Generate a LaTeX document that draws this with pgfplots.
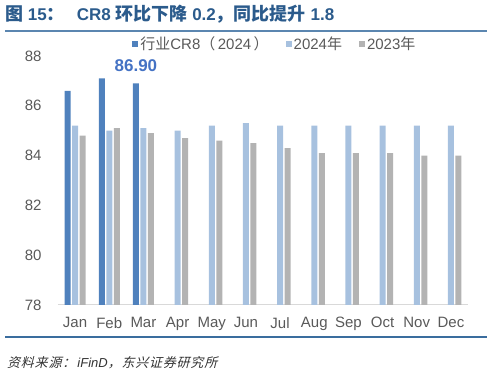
\documentclass[border=0pt]{standalone}
\usepackage{pgfplots}
\pgfplotsset{compat=1.18}
\usepackage{fontspec}
\setmainfont{Liberation Sans}
\newfontfamily\cjk{Noto Sans CJK SC}
\newfontfamily\cjkit[FakeSlant=0.25,LetterSpace=6]{Noto Sans CJK SC}
\definecolor{cra}{HTML}{4F81BD}
\definecolor{crb}{HTML}{A7C1DF}
\definecolor{crc}{HTML}{B3B3B3}
\definecolor{ttl}{HTML}{2B5B8C}
\definecolor{tickc}{HTML}{595959}
\definecolor{lblc}{HTML}{4472C4}
\definecolor{rule1}{HTML}{5B86B0}
\definecolor{rule2}{HTML}{3A6D9E}
\newcommand{\tc}[1]{{\cjk\fontsize{18bp}{20bp}\selectfont #1}}
\begin{document}
\begin{tikzpicture}
\path[use as bounding box] (0bp,0bp) rectangle (492bp,380bp);
\node[anchor=west, text=ttl, font=\fontsize{17bp}{20bp}\selectfont\bfseries, inner sep=0] at (5bp,366bp) {\tc{图} 15\tc{：}\hspace{12bp}CR8 \tc{环比下降} 0.2\tc{，同比提升} 1.8};
\draw[rule1, line width=1.2bp] (5bp,349bp) -- (487bp,349bp);
\draw[rule2, line width=1.2bp] (5bp,43bp) -- (487bp,43bp);
\node[anchor=west, text=black!80, font=\fontsize{13bp}{16bp}\selectfont, inner sep=0] at (7bp,17bp) {{\cjkit 资料来源：}\,\textit{iFinD}{\cjkit ，东兴证券研究所}};
\begin{axis}[
  at={(58bp,75bp)}, anchor=south west, scale only axis,
  width=410bp, height=249bp,
  ymin=78, ymax=88, ytick={78,80,...,88},
  xmin=-0.5, xmax=11.5, xtick={0,...,11},
  xticklabels={Jan,Feb,Mar,Apr,May,Jun,Jul,Aug,Sep,Oct,Nov,Dec},
  ybar=1.5bp, bar width=6bp,
  axis x line*=bottom, axis y line*=left,
  x axis line style={-, draw=black!15, line width=1bp},
  y axis line style={draw=none},
  major tick length=0pt, tick style={draw=none},
  /pgf/number format/assume math mode=true,
  tick label style={font=\fontsize{15bp}{18bp}\selectfont, text=tickc},
  yticklabel style={xshift=-13bp},
  xticklabel style={yshift=-9bp},
  legend style={at={(0.529,1.048)}, anchor=center, draw=none, fill=none,
    legend columns=3, font=\fontsize{15bp}{18bp}\selectfont, text=tickc,
    /tikz/every even column/.append style={column sep=15bp},
    inner sep=0pt},
  legend image code/.code={\fill[#1] (0bp,-3bp) rectangle (6bp,3bp);},
]
\addplot[fill=cra, draw=none, nodes near coords, point meta=explicit symbolic,
  every node near coord/.append style={font=\fontsize{17bp}{20bp}\selectfont\bfseries, text=lblc, yshift=8bp}]
  coordinates {(0,86.6) [] (1,87.1) [] (2,86.9) [86.90]};
\addplot[fill=crb, draw=none] coordinates {
  (0,85.2) (1,85.0) (2,85.1) (3,85.0) (4,85.2) (5,85.3)
  (6,85.2) (7,85.2) (8,85.2) (9,85.2) (10,85.2) (11,85.2)};
\addplot[fill=crc, draw=none] coordinates {
  (0,84.8) (1,85.1) (2,84.9) (3,84.7) (4,84.6) (5,84.5)
  (6,84.3) (7,84.1) (8,84.1) (9,84.1) (10,84.0) (11,84.0)};
\legend{{\cjk 行业}CR8{\cjk （}\,2024\,{\cjk ）}, 2024{\cjk 年}, 2023{\cjk 年}}
\end{axis}
\end{tikzpicture}
\end{document}
